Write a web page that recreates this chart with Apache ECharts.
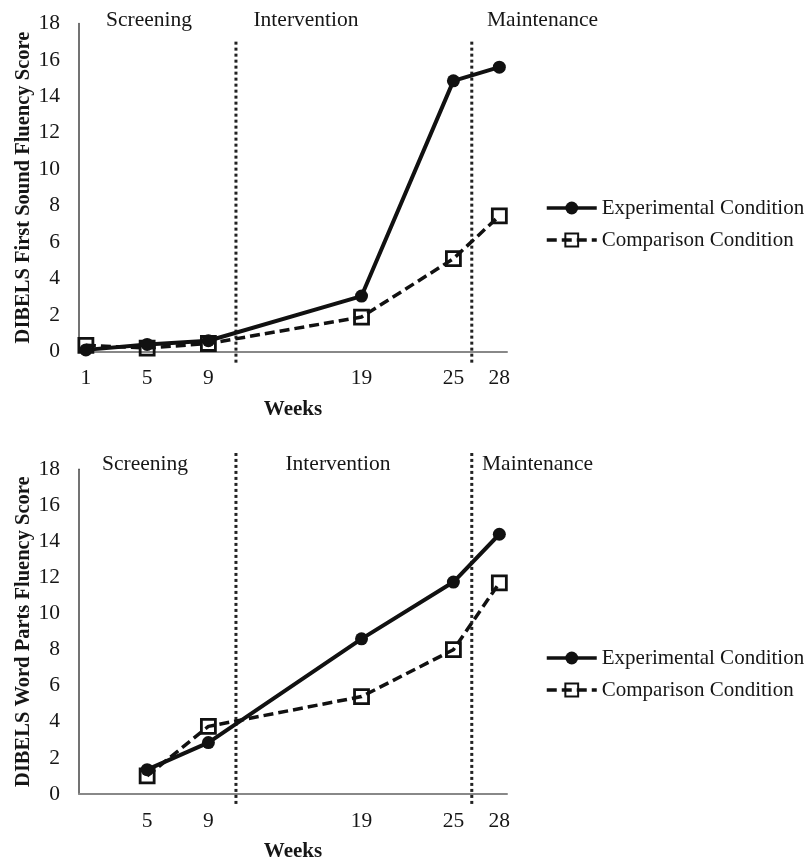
<!DOCTYPE html>
<html>
<head>
<meta charset="utf-8">
<script src="https://cdn.jsdelivr.net/npm/echarts@6/dist/echarts.min.js"></script>
<style>html,body{margin:0;padding:0;background:#fff}#c{width:808px;height:863px}</style>
</head>
<body>
<div id="c"></div>
<script>
// ---- data ----
const seriesNames = ['Experimental Condition', 'Comparison Condition'];
const topWeeks = [1, 5, 9, 19, 25, 28];
const topExperimental = [0.1, 0.4, 0.6, 3.05, 14.85, 15.6];
const topComparison = [0.35, 0.2, 0.45, 1.9, 5.1, 7.45];
const bottomWeeks = [5, 9, 19, 25, 28];
const bottomExperimental = [1.35, 2.85, 8.6, 11.75, 14.4];
const bottomComparison = [1.0, 3.75, 5.4, 8.0, 11.7];
const phaseBoundaries = [10.8, 26.2];
const phaseNames = ['Screening', 'Intervention', 'Maintenance'];
const yTitles = ['DIBELS First Sound Fluency Score', 'DIBELS Word Parts Fluency Score'];
const xTitle = 'Weeks';

const FONT = '"Liberation Serif", "Times New Roman", serif';
const INK = '#161616';

function pairs(xs, ys) { return xs.map((x, i) => [x, ys[i]]); }

function xAxisFor(idx, weeks) {
  return {
    type: 'value', gridIndex: idx, min: 0.55, max: 28.5,
    name: xTitle, nameLocation: 'middle', nameGap: 47, nameMoveOverlap: false,
    nameTextStyle: { fontFamily: FONT, fontSize: 21, fontWeight: 'bold', color: INK },
    axisLine: { show: true, onZero: false, lineStyle: { color: '#888', width: 2 } },
    axisTick: { show: false },
    splitLine: { show: false },
    axisLabel: { customValues: weeks, margin: 16, fontFamily: FONT, fontSize: 21.5, color: INK }
  };
}
function yAxisFor(idx) {
  return {
    type: 'value', gridIndex: idx, min: 0, max: 18, interval: 2,
    name: yTitles[idx], nameLocation: 'middle', nameGap: 45, nameMoveOverlap: false,
    nameTextStyle: { fontFamily: FONT, fontSize: 20.5, fontWeight: 'bold', color: INK },
    axisLine: { show: true, lineStyle: { color: '#444', width: 1.5 } },
    axisTick: { show: false },
    splitLine: { show: false },
    axisLabel: { margin: 19, fontFamily: FONT, fontSize: 21.5, color: INK }
  };
}
function dataSeries(idx, weeks, exp, comp) {
  return [
    {
      name: seriesNames[0], type: 'line', xAxisIndex: idx, yAxisIndex: idx,
      data: pairs(weeks, exp), symbol: 'circle', symbolSize: 13,
      lineStyle: { color: '#111', width: 4, type: 'solid' },
      itemStyle: { color: '#111' }, z: 4
    },
    {
      name: seriesNames[1], type: 'line', xAxisIndex: idx, yAxisIndex: idx,
      data: pairs(weeks, comp), symbol: 'rect', symbolSize: 14,
      lineStyle: { color: '#111', width: 3.5, type: [10, 5] },
      itemStyle: { color: 'rgba(255,255,255,0)', borderColor: '#111', borderWidth: 2.8 }, z: 3
    }
  ];
}
function dividerSeries(idx, lowY, highY) {
  return phaseBoundaries.map(b => ({
    name: 'phase', type: 'line', xAxisIndex: idx, yAxisIndex: idx, clip: false, silent: true,
    data: [[b, lowY], [b, highY]], symbol: 'none',
    lineStyle: { color: '#222', width: 3, type: [3, 3] }, z: 2
  }));
}
function label(text, x, y, align) {
  return { type: 'text', x: x, y: y, style: { text: text, fill: INK, font: '21.5px ' + FONT, textAlign: align || 'center', textVerticalAlign: 'middle' } };
}
function legendAt(top) {
  return {
    orient: 'vertical', left: 540, top: top, itemGap: 10, itemWidth: 50, itemHeight: 16,
    data: seriesNames, selectedMode: false,
    lineStyle: { width: 3.5 },
    textStyle: { fontFamily: FONT, fontSize: 21, color: INK, lineHeight: 22 }
  };
}

const option = {
  backgroundColor: '#fff',
  animation: false,
  grid: [
    { left: 79, top: 23.4, right: 301, height: 328.3 },
    { left: 79, top: 469.3, right: 301, height: 329 }
  ],
  xAxis: [xAxisFor(0, topWeeks), xAxisFor(1, bottomWeeks)],
  yAxis: [yAxisFor(0), yAxisFor(1)],
  legend: [legendAt(192), legendAt(642)],
  series: [
    ...dataSeries(0, topWeeks, topExperimental, topComparison),
    ...dataSeries(1, bottomWeeks, bottomExperimental, bottomComparison),
    ...dividerSeries(0, -0.6, 17.0),
    ...dividerSeries(1, -0.55, 18.9)
  ],
  graphic: [
    label(phaseNames[0], 149, 20), label(phaseNames[1], 306, 20), label(phaseNames[2], 487, 20, 'left'),
    label(phaseNames[0], 145, 464), label(phaseNames[1], 338, 464), label(phaseNames[2], 482, 464, 'left')
  ]
};

const chart = echarts.init(document.getElementById('c'), null, { renderer: 'canvas' });
chart.setOption(option);
</script>
</body>
</html>
